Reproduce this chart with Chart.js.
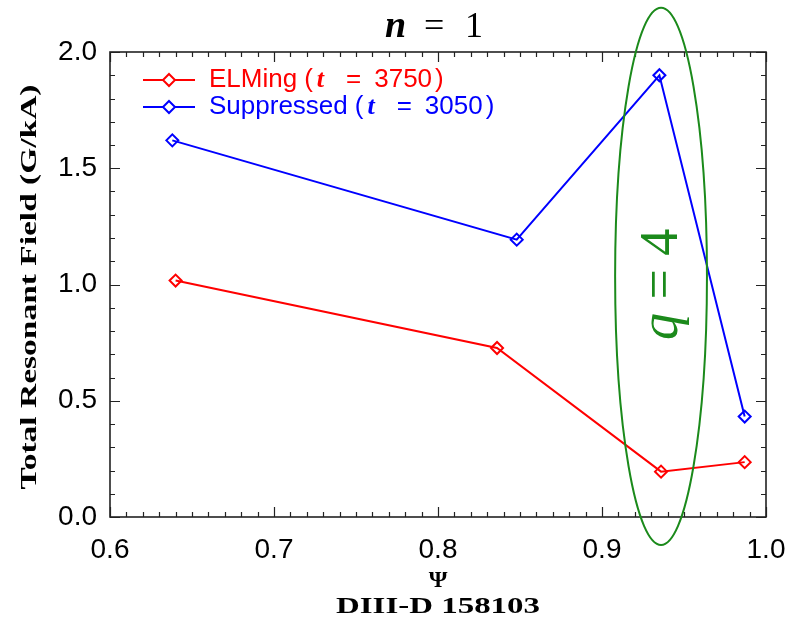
<!DOCTYPE html>
<html><head><meta charset="utf-8">
<script src="https://cdn.jsdelivr.net/npm/chart.js@4"></script>
<style>html,body{margin:0;padding:0;background:#fff}#wrap{width:789px;height:626px}</style>
</head><body><div id="wrap"><canvas id="c" width="789" height="626"></canvas></div>
<script>
// ---- data ----
const psiElming = [0.640, 0.836, 0.936, 0.987];
const fieldElming = [1.017, 0.727, 0.195, 0.236];
const psiSuppressed = [0.638, 0.848, 0.935, 0.987];
const fieldSuppressed = [1.620, 1.193, 1.900, 0.432];
const xTickLabels = ['0.6', '0.7', '0.8', '0.9', '1.0'];
const yTickLabels = ['0.0', '0.5', '1.0', '1.5', '2.0'];
const seriesNames = ['ELMing', 'Suppressed'];
const seriesTimes = ['3750', '3050'];
const seriesColors = ['#ff0000', '#0000ff'];
const titleText = ['n', '=', '1'];
const yTitle = 'Total Resonant Field (G/kA)';
const xTitle = 'Ψ';
const shotLabel = 'DIII-D 158103';
const q4Label = ['q', ' = 4'];
const q4Psi = 0.936, q4Field = 1.035, q4HalfPsi = 0.028, q4HalfField = 1.155;
const green = '#1b8a1b';

const toPts = (xs, ys) => xs.map((v, i) => ({x: v, y: ys[i]}));

function fitText(ctx, txt, x, y, w) {
  const m = ctx.measureText(txt).width;
  ctx.save();
  ctx.translate(x, y);
  ctx.scale(w / m, 1);
  ctx.textAlign = 'center';
  ctx.fillText(txt, 0, 0);
  ctx.restore();
}

function diamond(ctx, cx, cy, r) {
  ctx.beginPath();
  ctx.moveTo(cx, cy - r); ctx.lineTo(cx + r, cy); ctx.lineTo(cx, cy + r); ctx.lineTo(cx - r, cy); ctx.closePath();
  ctx.stroke();
}

const frame = {
  id: 'frame',
  beforeDatasetsDraw(chart) {
    const {ctx, chartArea: a, scales: {x, y}} = chart;
    ctx.save();
    ctx.strokeStyle = '#222';
    ctx.lineWidth = 1.2;
    ctx.beginPath();
    for (let i = 0; i <= 40; i++) {
      const px = Math.round(x.getPixelForValue(0.6 + i * 0.01)) + 0.5;
      const L = i % 10 === 0 ? 10 : 5;
      ctx.moveTo(px, a.bottom); ctx.lineTo(px, a.bottom - L);
      ctx.moveTo(px, a.top); ctx.lineTo(px, a.top + L);
    }
    for (let i = 0; i <= 20; i++) {
      const py = Math.round(y.getPixelForValue(i * 0.1)) + 0.5;
      const L = i % 5 === 0 ? 10 : 5;
      ctx.moveTo(a.left, py); ctx.lineTo(a.left + L, py);
      ctx.moveTo(a.right, py); ctx.lineTo(a.right - L, py);
    }
    ctx.stroke();
    ctx.lineWidth = 1.6;
    ctx.strokeRect(a.left, a.top, a.right - a.left, a.bottom - a.top);
    ctx.restore();
  },
  afterDatasetsDraw(chart) {
    const {ctx, chartArea: a, scales: {x, y}} = chart;
    ctx.save();
    // q=4 ellipse
    const cx = x.getPixelForValue(q4Psi), cy = y.getPixelForValue(q4Field);
    const rx = x.getPixelForValue(q4Psi + q4HalfPsi) - cx;
    const ry = cy - y.getPixelForValue(q4Field + q4HalfField);
    ctx.strokeStyle = green; ctx.lineWidth = 2;
    ctx.beginPath(); ctx.ellipse(cx, cy, rx, ry, 0, 0, Math.PI * 2); ctx.stroke();
    // q = 4 text
    ctx.save();
    ctx.translate(cx + 2, cy + 8);
    ctx.rotate(-Math.PI / 2);
    ctx.fillStyle = green; ctx.textBaseline = 'middle';
    ctx.font = 'italic 54px "Liberation Serif"';
    const w1 = ctx.measureText(q4Label[0]).width;
    ctx.font = '54px "Liberation Serif"';
    const w2 = ctx.measureText(q4Label[1]).width;
    let sx = -(w1 + w2) / 2;
    ctx.font = 'italic 54px "Liberation Serif"';
    ctx.textAlign = 'left';
    ctx.fillText(q4Label[0], sx, 0);
    ctx.font = '54px "Liberation Serif"';
    ctx.fillText(q4Label[1], sx + w1, 0);
    ctx.restore();

    // legend
    const ly = [80, 107];
    for (let i = 0; i < 2; i++) {
      ctx.strokeStyle = seriesColors[i];
      ctx.lineWidth = 2;
      ctx.beginPath(); ctx.moveTo(143, ly[i]); ctx.lineTo(195, ly[i]); ctx.stroke();
      ctx.fillStyle = '#fff';
      ctx.beginPath(); ctx.moveTo(169, ly[i]-6); ctx.lineTo(175, ly[i]); ctx.lineTo(169, ly[i]+6); ctx.lineTo(163, ly[i]); ctx.closePath(); ctx.fill();
      diamond(ctx, 169, ly[i], 6);
      ctx.fillStyle = seriesColors[i];
      ctx.textBaseline = 'middle'; ctx.textAlign = 'left';
      let tx = 209;
      ctx.font = '26px "Liberation Sans"';
      ctx.fillText(seriesNames[i], tx, ly[i]); tx += ctx.measureText(seriesNames[i]).width + 7;
      ctx.fillText('(', tx, ly[i]); tx += ctx.measureText('(').width + 4;
      ctx.font = 'italic bold 26px "Liberation Serif"';
      ctx.fillText('t', tx, ly[i]); tx += ctx.measureText('t').width + 22;
      ctx.font = '26px "Liberation Sans"';
      ctx.fillText('=', tx, ly[i]); tx += ctx.measureText('=').width + 13;
      ctx.fillText(seriesTimes[i], tx, ly[i]); tx += ctx.measureText(seriesTimes[i]).width + 3;
      ctx.fillText(')', tx, ly[i]);
    }

    // title
    ctx.fillStyle = '#000'; ctx.textBaseline = 'alphabetic'; ctx.textAlign = 'left';
    ctx.font = 'italic bold 38px "Liberation Serif"';
    ctx.fillText(titleText[0], 385, 37);
    ctx.font = '36px "Liberation Serif"';
    ctx.fillText(titleText[1], 424, 37);
    ctx.fillText(titleText[2], 465, 37);

    // axis titles
    const mid = (a.left + a.right) / 2;
    ctx.font = 'bold 24px "Liberation Serif"';
    ctx.textBaseline = 'middle';
    ctx.save();
    ctx.translate(30, 287);
    ctx.rotate(-Math.PI / 2);
    fitText(ctx, yTitle, 0, 0, 405);
    ctx.restore();
    ctx.font = 'bold 24px "Liberation Serif"';
    ctx.textAlign = 'center';
    ctx.fillText(xTitle, mid, 581);
    fitText(ctx, shotLabel, mid, 607, 204);
    ctx.restore();
  }
};

new Chart(document.getElementById('c'), {
  type: 'scatter',
  data: {
    datasets: [
      {label: seriesNames[0], data: toPts(psiElming, fieldElming), showLine: true,
       borderColor: seriesColors[0], backgroundColor: '#fff', borderWidth: 2,
       pointStyle: 'rectRot', pointRadius: 6, pointBorderWidth: 2, pointBorderColor: seriesColors[0], pointBackgroundColor: 'rgba(255,255,255,0)'},
      {label: seriesNames[1], data: toPts(psiSuppressed, fieldSuppressed), showLine: true,
       borderColor: seriesColors[1], backgroundColor: '#fff', borderWidth: 2,
       pointStyle: 'rectRot', pointRadius: 6, pointBorderWidth: 2, pointBorderColor: seriesColors[1], pointBackgroundColor: 'rgba(255,255,255,0)'}
    ]
  },
  options: {
    responsive: false, devicePixelRatio: 1, animation: false,
    layout: {padding: {top: 52, right: 23, left: 0, bottom: 0}},
    plugins: {legend: {display: false}, tooltip: {enabled: false}, title: {display: false}},
    scales: {
      x: {type: 'linear', min: 0.6, max: 1.0,
          grid: {display: false, drawTicks: false}, border: {display: false},
          ticks: {stepSize: 0.1, padding: 16, color: '#000', font: {family: 'Liberation Sans', size: 28},
                  callback: (v) => xTickLabels[Math.round((v - 0.6) * 10)] ?? ''},
          afterFit: (s) => { s.height = 109; s.paddingRight = 0; s.paddingLeft = 0; }},
      y: {type: 'linear', min: 0, max: 2,
          grid: {display: false, drawTicks: false}, border: {display: false},
          ticks: {stepSize: 0.5, padding: 13, color: '#000', font: {family: 'Liberation Sans', size: 28},
                  callback: (v) => yTickLabels[Math.round(v * 2)] ?? ''},
          afterFit: (s) => { s.width = 110; s.paddingTop = 0; s.paddingBottom = 0; }}
    }
  },
  plugins: [frame]
});
</script>
</body></html>
